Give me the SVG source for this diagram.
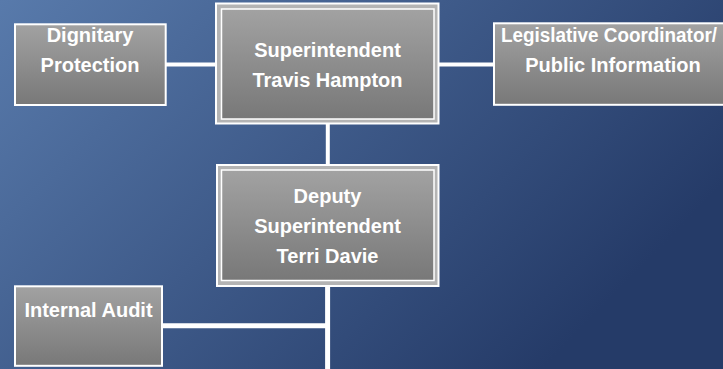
<svg xmlns="http://www.w3.org/2000/svg" width="723" height="369" viewBox="0 0 723 369">
  <defs>
    <linearGradient id="bg" x1="0" y1="0" x2="1" y2="0.5">
      <stop offset="0" stop-color="#587aab"/>
      <stop offset="1" stop-color="#253b68"/>
    </linearGradient>
    <linearGradient id="box" x1="0" y1="0" x2="0" y2="1">
      <stop offset="0" stop-color="#a2a2a2"/>
      <stop offset="1" stop-color="#787878"/>
    </linearGradient>
    <style>
      .box { fill: url(#box); stroke: #ffffff; stroke-width: 2; }
      .outer { fill: #b4b4b4; stroke: #ffffff; stroke-width: 2; }
      .inner { fill: url(#box); stroke: #ffffff; stroke-width: 1.5; }
      .conn { stroke: #ffffff; fill: none; }
      text { font-family: "Liberation Sans", Arial, sans-serif; font-weight: bold; font-size: 20px; fill: #ffffff; text-anchor: middle; }
    </style>
  </defs>
  <rect x="0" y="0" width="723" height="369" fill="url(#bg)"/>

  <g id="connectors">
    <line class="conn" x1="166" y1="64.5" x2="216" y2="64.5" stroke-width="4"/>
    <line class="conn" x1="439" y1="64.5" x2="494" y2="64.5" stroke-width="4"/>
    <line class="conn" x1="327.8" y1="123" x2="327.8" y2="165" stroke-width="4"/>
    <line class="conn" x1="327.6" y1="286" x2="327.6" y2="369" stroke-width="5"/>
    <line class="conn" x1="162" y1="325.8" x2="330" y2="325.8" stroke-width="5"/>
  </g>

  <g id="dignitary">
    <rect class="box" x="15" y="24.3" width="150.7" height="80.7"/>
    <text x="90" y="41.5">Dignitary</text>
    <text x="90" y="71.5">Protection</text>
  </g>

  <g id="superintendent">
    <rect class="outer" x="216" y="3.5" width="222.5" height="120"/>
    <rect class="inner" x="221.5" y="9" width="212.5" height="110"/>
    <text x="327.5" y="56.5">Superintendent</text>
    <text x="327.5" y="87">Travis Hampton</text>
  </g>

  <g id="legislative">
    <rect class="box" x="494" y="23.3" width="240" height="81.5"/>
    <text x="501" y="42" style="text-anchor:start" textLength="216" lengthAdjust="spacingAndGlyphs">Legislative Coordinator/</text>
    <text x="613" y="72">Public Information</text>
  </g>

  <g id="deputy">
    <rect class="outer" x="217" y="165" width="221.5" height="121"/>
    <rect class="inner" x="221.5" y="170" width="212.5" height="110.5"/>
    <text x="327.5" y="203">Deputy</text>
    <text x="327.5" y="233">Superintendent</text>
    <text x="327.5" y="263">Terri Davie</text>
  </g>

  <g id="internal-audit">
    <rect class="box" x="15" y="286.3" width="147" height="79.5"/>
    <text x="88.5" y="317">Internal Audit</text>
  </g>
</svg>
